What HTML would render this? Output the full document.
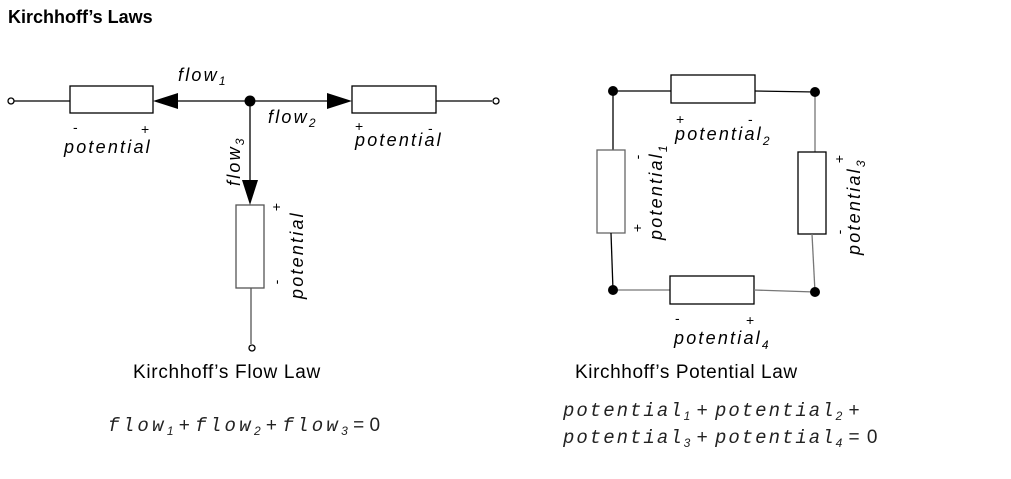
<!DOCTYPE html>
<html><head><style>body{margin:0;background:#fff}</style></head><body>
<svg width="1011" height="474" xmlns="http://www.w3.org/2000/svg" font-family="Liberation Sans, sans-serif">
<text x="8" y="23" font-size="18" font-weight="bold">Kirchhoff’s Laws</text>
<g stroke="#000" stroke-width="1.3" fill="none">
<line x1="14" y1="101" x2="70" y2="101"/>
<rect x="70" y="86" width="83" height="27"/>
<line x1="175" y1="101" x2="328" y2="101"/>
<rect x="352" y="86" width="84" height="27"/>
<line x1="436" y1="101" x2="492" y2="101"/>
<circle cx="11" cy="101" r="3"/><circle cx="496" cy="101" r="3"/>
<line x1="250" y1="101" x2="250" y2="182"/>
<rect x="236" y="205" width="28" height="83" stroke="#555"/>
<line x1="251" y1="288" x2="251" y2="344" stroke="#555"/>
<circle cx="252" cy="348" r="3"/>
</g>
<circle cx="250" cy="101" r="5.5"/>
<polygon points="153,101 178,93 178,109"/>
<polygon points="352,101 327,93 327,109"/>
<polygon points="250,205 242,180 258,180"/>
<g font-style="italic" font-size="18" letter-spacing="2.2">
<text x="178" y="81">flow<tspan font-size="12" dy="4">1</tspan></text>
<text x="268" y="123">flow<tspan font-size="12" dy="4">2</tspan></text>
<text transform="translate(240,186) rotate(-90)">flow<tspan font-size="12" dy="4">3</tspan></text>
<text x="64" y="153">potential</text>
<text x="355" y="146">potential</text>
<text transform="translate(303,299) rotate(-90)">potential</text>
</g>
<g font-size="14">
<text x="73" y="132">-</text><text x="141" y="134">+</text>
<text x="355" y="131">+</text><text x="428" y="133">-</text>
<text transform="translate(281,207) rotate(-90)" text-anchor="middle">+</text>
<text transform="translate(281,282) rotate(-90)" text-anchor="middle">-</text>
</g>
<g stroke="#000" stroke-width="1.3" fill="none">
<line x1="613" y1="91" x2="671" y2="91"/>
<rect x="671" y="75" width="84" height="28"/>
<line x1="755" y1="91" x2="815" y2="92"/>
<line x1="613" y1="91" x2="613" y2="150"/>
<rect x="597" y="150" width="28" height="83" stroke="#666"/>
<line x1="611" y1="233" x2="613" y2="290"/>
<line x1="815" y1="92" x2="815" y2="152" stroke="#777"/>
<rect x="798" y="152" width="28" height="82"/>
<line x1="812" y1="234" x2="815" y2="292" stroke="#777"/>
<line x1="613" y1="290" x2="670" y2="290" stroke="#777"/>
<rect x="670" y="276" width="84" height="28"/>
<line x1="754" y1="290" x2="815" y2="292" stroke="#777"/>
</g>
<circle cx="613" cy="91" r="5"/><circle cx="815" cy="92" r="5"/>
<circle cx="613" cy="290" r="5"/><circle cx="815" cy="292" r="5"/>
<g font-style="italic" font-size="18" letter-spacing="2.2">
<text x="675" y="140">potential<tspan font-size="12" dy="5">2</tspan></text>
<text x="674" y="344">potential<tspan font-size="12" dy="5">4</tspan></text>
<text transform="translate(662,240) rotate(-90)">potential<tspan font-size="12" dy="5">1</tspan></text>
<text transform="translate(860,255) rotate(-90)">potential<tspan font-size="12" dy="5">3</tspan></text>
</g>
<g font-size="14">
<text x="676" y="124">+</text><text x="748" y="124">-</text>
<text x="675" y="323">-</text><text x="746" y="325">+</text>
<text transform="translate(642,228) rotate(-90)" text-anchor="middle">+</text>
<text transform="translate(642,157) rotate(-90)" text-anchor="middle">-</text>
<text transform="translate(844,159) rotate(-90)" text-anchor="middle">+</text>
<text transform="translate(844,232) rotate(-90)" text-anchor="middle">-</text>
</g>
<text x="133" y="378" font-size="19" letter-spacing="0.7">Kirchhoff’s Flow Law</text>
<text x="575" y="378" font-size="19" letter-spacing="0.6">Kirchhoff’s Potential Law</text>
<g font-size="19" fill="#222">
<text x="108" y="431"><tspan font-family="Liberation Mono, monospace" font-style="italic" letter-spacing="3.3">flow</tspan><tspan font-size="12" dy="4" font-style="italic">1</tspan><tspan dy="-4"> + </tspan><tspan font-family="Liberation Mono, monospace" font-style="italic" letter-spacing="3.3">flow</tspan><tspan font-size="12" dy="4" font-style="italic">2</tspan><tspan dy="-4"> + </tspan><tspan font-family="Liberation Mono, monospace" font-style="italic" letter-spacing="3.3">flow</tspan><tspan font-size="12" dy="4" font-style="italic">3</tspan><tspan dy="-4"> = 0</tspan></text>
<text x="563" y="416"><tspan font-family="Liberation Mono, monospace" font-style="italic" letter-spacing="2">potential</tspan><tspan font-size="12" dy="4" font-style="italic">1</tspan><tspan dy="-4" letter-spacing="1"> + </tspan><tspan font-family="Liberation Mono, monospace" font-style="italic" letter-spacing="2">potential</tspan><tspan font-size="12" dy="4" font-style="italic">2</tspan><tspan dy="-4" letter-spacing="1"> +</tspan></text>
<text x="563" y="443"><tspan font-family="Liberation Mono, monospace" font-style="italic" letter-spacing="2">potential</tspan><tspan font-size="12" dy="4" font-style="italic">3</tspan><tspan dy="-4" letter-spacing="1"> + </tspan><tspan font-family="Liberation Mono, monospace" font-style="italic" letter-spacing="2">potential</tspan><tspan font-size="12" dy="4" font-style="italic">4</tspan><tspan dy="-4" letter-spacing="1"> = 0</tspan></text>
</g>
</svg>
</body></html>
